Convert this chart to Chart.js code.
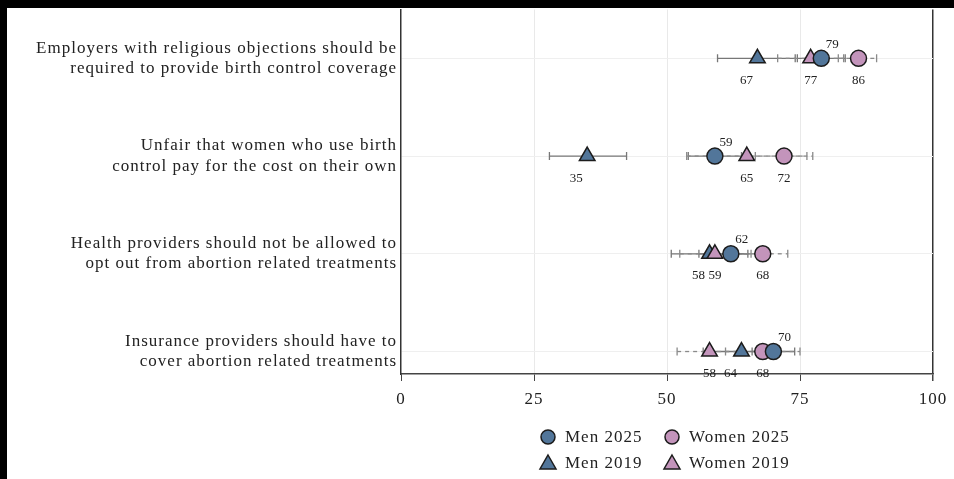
<!DOCTYPE html>
<html>
<head>
<meta charset="utf-8">
<script src="https://cdn.jsdelivr.net/npm/chart.js@4/dist/chart.umd.min.js"></script>
<style>
  html, body { margin: 0; padding: 0; background: #000; }
  #wrap { position: absolute; left: 7px; top: 8px; width: 947px; height: 471px; background: #fff; overflow: hidden; }
  #myChart { position: absolute; left: 0; top: -9px; }
</style>
</head>
<body>
<div id="wrap"><canvas id="myChart" width="947" height="480"></canvas></div>
<script>
const questions = [
    ['Employers with religious objections should be', 'required to provide birth control coverage'],
    ['Unfair that women who use birth', 'control pay for the cost on their own'],
    ['Health providers should not be allowed to', 'opt out from abortion related treatments'],
    ['Insurance providers should have to', 'cover abortion related treatments']
];
const xTicks = [0, 25, 50, 75, 100];

// percentages per question, top to bottom
const men2025 = [79, 59, 62, 70];
const women2025 = [86, 72, 68, 68];
const men2019 = [67, 35, 58, 64];
const women2019 = [77, 65, 59, 58];

// interval ends
const men2025Low = [74.5, 54, 56, 66];
const men2025High = [83.5, 64, 68, 74];
const women2025Low = [82.2, 66.6, 63.3, 61];
const women2025High = [89.4, 77.4, 72.7, 75];
const men2019Low = [59.5, 27.9, 50.8, 56.8];
const men2019High = [74.1, 42.4, 65.2, 71];
const women2019Low = [70.8, 53.7, 52.4, 51.9];
const women2019High = [83.2, 76.3, 65.8, 64];

const blue = '#52769a';
const pink = '#c394bb';
const serif = "'Liberation Serif', 'DejaVu Serif', serif";

function points(values) {
    return values.map((v, i) => ({x: v, y: i}));
}

const data = {
    datasets: [
        {label: 'Men 2025', data: points(men2025), low: men2025Low, high: men2025High, dashed: false,
         pointStyle: 'circle', radius: 8, backgroundColor: blue, order: 0, labelDx: 11, labelDy: -14},
        {label: 'Women 2025', data: points(women2025), low: women2025Low, high: women2025High, dashed: true,
         pointStyle: 'circle', radius: 8, backgroundColor: pink, order: 1, labelDx: 0, labelDy: 22},
        {label: 'Men 2019', data: points(men2019), low: men2019Low, high: men2019High, dashed: false,
         pointStyle: 'triangle', radius: 9, backgroundColor: blue, order: 3, labelDx: -11, labelDy: 22},
        {label: 'Women 2019', data: points(women2019), low: women2019Low, high: women2019High, dashed: true,
         pointStyle: 'triangle', radius: 9, backgroundColor: pink, order: 2, labelDx: 0, labelDy: 22}
    ]
};
data.datasets.forEach(ds => {
    ds.pointRadius = ds.radius;
    ds.pointHoverRadius = ds.radius;
    ds.borderColor = '#1c1c1c';
    ds.borderWidth = 1.5;
});

// slightly wider serif text for the axes
const spacing = {
    id: 'spacing',
    beforeInit(chart) { chart.ctx.letterSpacing = '1px'; },
    beforeDraw(chart) { chart.ctx.letterSpacing = '1px'; }
};

// whiskers behind the markers
const intervals = {
    id: 'intervals',
    beforeDatasetsDraw(chart) {
        const ctx = chart.ctx;
        const xs = chart.scales.x, ys = chart.scales.y;
        ctx.save();
        chart.data.datasets.forEach(ds => {
            ctx.strokeStyle = ds.dashed ? '#8a8a8a' : '#777';
            ctx.lineWidth = 1.3;
            ds.data.forEach((p, i) => {
                const y = ys.getPixelForValue(p.y);
                const x1 = xs.getPixelForValue(ds.low[i]);
                const x2 = xs.getPixelForValue(ds.high[i]);
                ctx.setLineDash(ds.dashed ? [4, 4] : []);
                ctx.beginPath();
                ctx.moveTo(x1, y);
                ctx.lineTo(x2, y);
                ctx.stroke();
                ctx.setLineDash([]);
                ctx.beginPath();
                ctx.moveTo(x1, y - 4); ctx.lineTo(x1, y + 4);
                ctx.moveTo(x2, y - 4); ctx.lineTo(x2, y + 4);
                ctx.stroke();
            });
        });
        ctx.restore();
    }
};

// numbers next to the markers
const valueLabels = {
    id: 'valueLabels',
    afterDatasetsDraw(chart) {
        const ctx = chart.ctx;
        ctx.save();
        ctx.letterSpacing = '0px';
        ctx.font = '13px ' + serif;
        ctx.fillStyle = '#222';
        ctx.textAlign = 'center';
        ctx.textBaseline = 'middle';
        chart.data.datasets.forEach((ds, d) => {
            chart.getDatasetMeta(d).data.forEach((el, i) => {
                ctx.fillText(String(ds.data[i].x), el.x + ds.labelDx, el.y + ds.labelDy);
            });
        });
        ctx.restore();
    }
};

// two-by-two key under the axis
const keyBox = {
    id: 'keyBox',
    afterDraw(chart) {
        const ctx = chart.ctx;
        const cols = [541, 665];
        const rows = [438, 464];
        const order = [['Men 2025', 'Women 2025'], ['Men 2019', 'Women 2019']];
        ctx.save();
        ctx.letterSpacing = '1px';
        ctx.font = '17px ' + serif;
        ctx.textBaseline = 'middle';
        ctx.textAlign = 'left';
        order.forEach((row, r) => {
            row.forEach((name, c) => {
                const ds = chart.data.datasets.find(s => s.label === name);
                const x = cols[c], y = rows[r];
                ctx.fillStyle = ds.backgroundColor;
                ctx.strokeStyle = '#1c1c1c';
                ctx.lineWidth = 1.5;
                ctx.beginPath();
                if (ds.pointStyle === 'circle') {
                    ctx.arc(x, y, 7, 0, Math.PI * 2);
                } else {
                    ctx.moveTo(x, y - 8);
                    ctx.lineTo(x + 8, y + 6);
                    ctx.lineTo(x - 8, y + 6);
                    ctx.closePath();
                }
                ctx.fill();
                ctx.stroke();
                ctx.fillStyle = '#222';
                ctx.fillText(name, x + 17, y + 1);
            });
        });
        ctx.restore();
    }
};

const config = {
    type: 'scatter',
    data: data,
    options: {
        responsive: false,
        animation: false,
        layout: {padding: {top: 0, right: 21, bottom: 60, left: 0}},
        plugins: {
            legend: {display: false},
            tooltip: {enabled: false}
        },
        scales: {
            x: {
                min: 0,
                max: 100,
                afterBuildTicks: scale => { scale.ticks = xTicks.map(v => ({value: v})); },
                afterFit: scale => { scale.height = 45; scale.paddingLeft = 0; scale.paddingRight = 0; },
                border: {color: '#444', width: 1.5},
                grid: {
                    color: c => c.tick.value === 100 ? '#333' : (c.tick.value === 0 ? 'rgba(0,0,0,0)' : '#e9e9e9'),
                    lineWidth: c => c.tick.value === 100 ? 1.5 : 1,
                    tickColor: '#444',
                    tickLength: 7
                },
                ticks: {color: '#222', font: {family: serif, size: 17}, padding: 8}
            },
            y: {
                reverse: true,
                min: -0.5,
                max: 3.23,
                afterBuildTicks: scale => { scale.ticks = questions.map((q, i) => ({value: i})); },
                afterFit: scale => { scale.width = 394; scale.paddingTop = 0; scale.paddingBottom = 0; },
                border: {color: '#333', width: 1.5},
                grid: {color: '#efefef', drawTicks: false},
                ticks: {
                    color: '#222',
                    font: {family: serif, size: 17, lineHeight: 1.2},
                    padding: 4,
                    callback: v => questions[v]
                }
            }
        }
    },
    plugins: [spacing, intervals, valueLabels, keyBox]
};

const myChart = new Chart(document.getElementById('myChart'), config);
</script>
</body>
</html>
